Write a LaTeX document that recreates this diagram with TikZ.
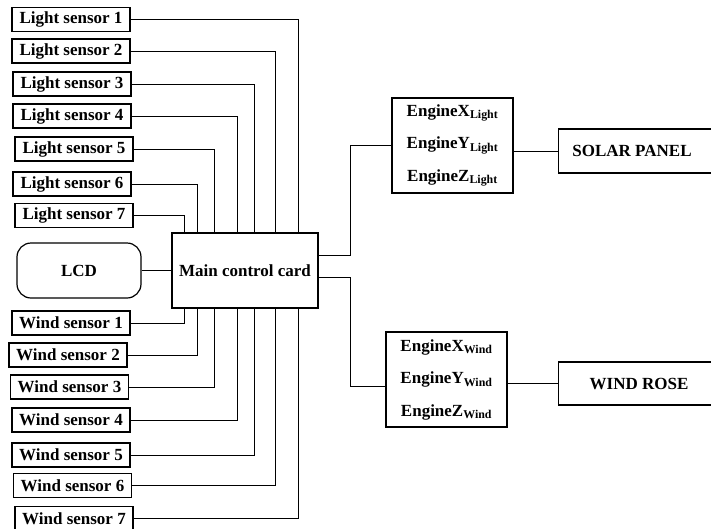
\documentclass[tikz,border=0pt]{standalone}
\usepackage{fontspec}
\setmainfont{Liberation Serif}
\begin{document}
\begin{tikzpicture}[x=1pt,y=-1pt,
  txt/.style={font=\bfseries\fontsize{17}{20}\selectfont},
  box/.style={draw,line width=1.2pt,rectangle,inner sep=0pt,txt},
  sens/.style={box,minimum width=118pt,minimum height=24pt},
  wire/.style={line width=1pt}]
\useasboundingbox (0,0) rectangle (711,528);
\clip (0,0) rectangle (711,528);
% light sensors
\node[sens] (L1) at (71,19.5) {Light sensor 1};
\node[sens] (L2) at (71,51) {Light sensor 2};
\node[sens] (L3) at (72,84) {Light sensor 3};
\node[sens] (L4) at (72,116) {Light sensor 4};
\node[sens] (L5) at (74,149) {Light sensor 5};
\node[sens] (L6) at (72,184) {Light sensor 6};
\node[sens] (L7) at (74,215.5) {Light sensor 7};
% main
\node[box,minimum width=146pt,minimum height=75pt] (M) at (245,270.5) {Main control card};
\node[box,rounded corners=14pt,minimum width=124pt,minimum height=55pt] (LCD) at (79,270.5) {LCD};
% wind sensors
\node[sens] (W1) at (71,323) {Wind sensor 1};
\node[sens] (W2) at (68,355) {Wind sensor 2};
\node[sens] (W3) at (69.5,387) {Wind sensor 3};
\node[sens] (W4) at (71,420) {Wind sensor 4};
\node[sens] (W5) at (71,455) {Wind sensor 5};
\node[sens] (W6) at (72.5,485.5) {Wind sensor 6};
\node[sens] (W7) at (74,518.5) {Wind sensor 7};
% connectors light
\draw[wire] (L1.east) -| ([xshift=127pt]M.north west);
\draw[wire] (L2.east) -| ([xshift=104pt]M.north west);
\draw[wire] (L3.east) -| ([xshift=83pt]M.north west);
\draw[wire] (L4.east) -| ([xshift=66pt]M.north west);
\draw[wire] (L5.east) -| ([xshift=43pt]M.north west);
\draw[wire] (L6.east) -| ([xshift=26pt]M.north west);
\draw[wire] (L7.east) -| ([xshift=13pt]M.north west);
% connectors wind
\draw[wire] (W1.east) -| ([xshift=13pt]M.south west);
\draw[wire] (W2.east) -| ([xshift=26pt]M.south west);
\draw[wire] (W3.east) -| ([xshift=43pt]M.south west);
\draw[wire] (W4.east) -| ([xshift=66pt]M.south west);
\draw[wire] (W5.east) -| ([xshift=83pt]M.south west);
\draw[wire] (W6.east) -| ([xshift=104pt]M.south west);
\draw[wire] (W7.east) -| ([xshift=127pt]M.south west);
\draw[wire] (LCD.east) -- (M.west);
% engines
\node[box,minimum width=121pt,minimum height=95pt,align=center] (EL) at (452.5,145.5)
  {EngineX\textsubscript{Light}\\[12.5pt]EngineY\textsubscript{Light}\\[12.5pt]EngineZ\textsubscript{Light}};
\node[box,minimum width=121pt,minimum height=95pt,align=center] (EW) at (446.5,379.5)
  {EngineX\textsubscript{Wind}\\[12.5pt]EngineY\textsubscript{Wind}\\[12.5pt]EngineZ\textsubscript{Wind}};
\node[box,minimum width=162pt,minimum height=44pt,anchor=west] (SP) at (558,151) {};
\node[txt] (SPt) at (632,151) {SOLAR PANEL};
\node[box,minimum width=162pt,minimum height=43pt,anchor=west] (WR) at (558,383.5) {};
\node[txt] (WRt) at (639,383.5) {WIND ROSE};
\draw[wire] ([yshift=15.5pt]M.east) -- ++(32,0) |- (EL.west);
\draw[wire] ([yshift=-6.5pt]M.east) -- ++(32,0) |- ([yshift=-7pt]EW.west);
\draw[wire] (SP.west) -- (SP.west -| EL.east);
\draw[wire] (WR.west) -- (WR.west -| EW.east);
\end{tikzpicture}
\end{document}
